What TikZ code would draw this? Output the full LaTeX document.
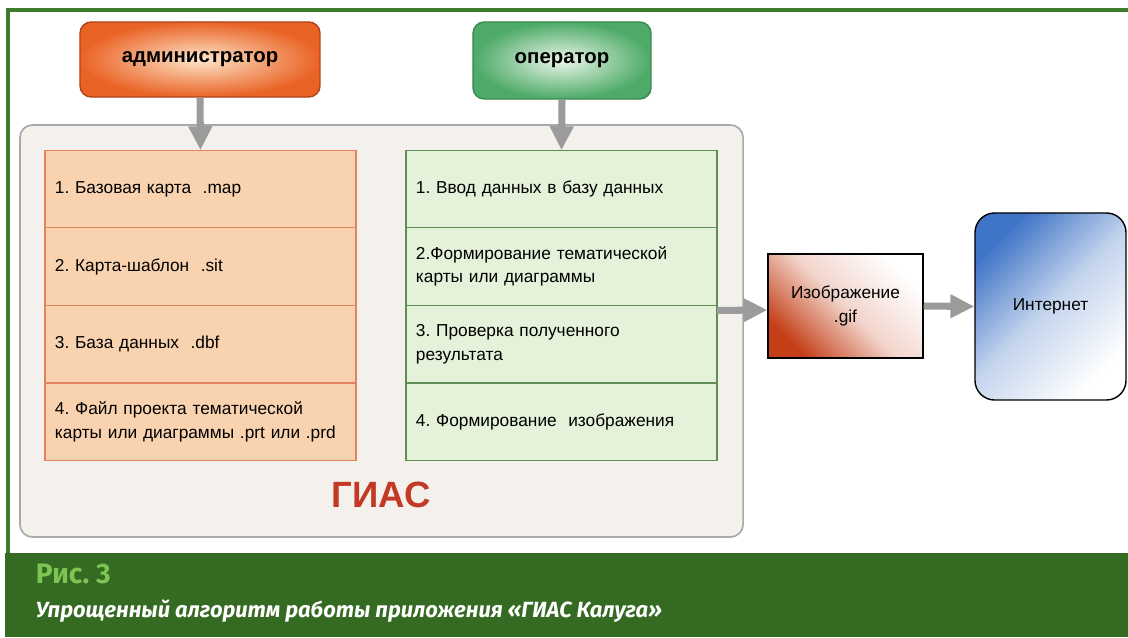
\documentclass[tikz,border=0pt]{standalone}
\usepackage{fontspec}
\setmainfont{Liberation Sans}
\newfontfamily\capfont{Fira Sans}
\usetikzlibrary{positioning,arrows.meta}

\definecolor{framegreen}{HTML}{3E7A2B}
\definecolor{bandgreen}{HTML}{356A22}
\definecolor{ricgreen}{HTML}{7CC552}
\definecolor{adminout}{HTML}{EA6326}
\definecolor{adminin}{HTML}{FDE6C8}
\definecolor{adminline}{HTML}{B0431D}
\definecolor{operout}{HTML}{4DAA68}
\definecolor{operin}{HTML}{EAF6E8}
\definecolor{operline}{HTML}{3A8A4E}
\definecolor{giasfill}{HTML}{F4F1ED}
\definecolor{giasline}{HTML}{A9A9A9}
\definecolor{giasred}{HTML}{C23A25}
\definecolor{leftfill}{HTML}{F9D3AF}
\definecolor{leftline}{HTML}{E08460}
\definecolor{rightfill}{HTML}{E4F2DA}
\definecolor{rightline}{HTML}{5F8F57}
\definecolor{arrowgray}{HTML}{9B9B9B}
\definecolor{imgred}{HTML}{C43F17}
\definecolor{netblue}{HTML}{3F74C6}

\begin{document}
\frenchspacing
\begin{tikzpicture}[x=0.025cm,y=-0.025cm]

	\tikzstyle{role} = [rectangle, rounded corners=8pt, text centered, font=\bfseries\fontsize{14.5}{17}\selectfont, line width=1pt]
	\tikzstyle{admin} = [role, minimum width=6cm, minimum height=1.875cm, draw=adminline, inner color=adminin, outer color=adminout]
	\tikzstyle{oper} = [role, minimum width=4.45cm, minimum height=1.925cm, draw=operline, inner color=operin, outer color=operout]
	\tikzstyle{cell} = [rectangle, outer sep=0pt, minimum height=1.94cm, text width=7.275cm, inner xsep=0.25cm, align=left, font=\fontsize{12.3}{16.5}\selectfont, line width=0.8pt]
	\tikzstyle{leftcell} = [cell, draw=leftline, fill=leftfill]
	\tikzstyle{rightcell} = [cell, draw=rightline, fill=rightfill]
	\tikzstyle{arrow} = [line width=5pt, draw=arrowgray, -{Triangle[length=17pt,width=16pt]}]

	\useasboundingbox (0,0) rectangle (1128,637);

	% frame and caption band
	\draw[framegreen, line width=2.5pt] (8,553) -- (8,10) -- (1140,10);
	\fill[bandgreen] (5,553) rectangle (1128,637);
	\node (fig) [anchor=base west, text=ricgreen, font=\capfont\bfseries\fontsize{20}{24}\selectfont] at (31,583) {Рис. 3};
	\node (caption) [anchor=base west, text=white, font=\capfont\bfseries\itshape\fontsize{15.6}{18}\selectfont] at (31,617) {Упрощенный алгоритм работы приложения «ГИАС Калуга»};

	% GIAS container
	\node (gias) [rectangle, rounded corners=9pt, draw=giasline, fill=giasfill, line width=1.2pt, minimum width=18.075cm, minimum height=10.3cm] at (381.5,331) {};
	\node (giaslabel) [text=giasred, font=\bfseries\fontsize{26}{30}\selectfont] at (381,495) {ГИАС};

	% roles
	\node (admin) [admin] at (200,59.5) {администратор};
	\node (oper) [oper] at (562,60.5) {оператор};

	% administrator column
	\node (l1) [leftcell] at (200.5,189) {1. Базовая карта\ \ .map};
	\node (l2) [leftcell, below=0pt of l1] {2. Карта-шаблон\ \ .sit};
	\node (l3) [leftcell, below=0pt of l2] {3. База данных\ \ .dbf};
	\node (l4) [leftcell, below=0pt of l3] {4. Файл проекта тематической\\карты или диаграммы .prt или .prd};

	% operator column
	\node (r1) [rightcell] at (561.5,189) {1. Ввод данных в базу данных};
	\node (r2) [rightcell, below=0pt of r1] {2.Формирование тематической\\карты или диаграммы};
	\node (r3) [rightcell, below=0pt of r2] {3. Проверка полученного\\результата};
	\node (r4) [rightcell, below=0pt of r3] {4. Формирование\ \ изображения};

	% output
	\node (img) [rectangle, draw=black, line width=1pt, minimum width=3.875cm, minimum height=2.6cm, align=center, font=\fontsize{12.3}{16.5}\selectfont, bottom color=imgred, top color=white, middle color=imgred!22, shading angle=-45] at (845.5,306) {Изображение\\.gif};
	\node (net) [rectangle, rounded corners=14pt, draw=black, line width=1pt, minimum width=3.775cm, minimum height=4.675cm, font=\fontsize{12.3}{16.5}\selectfont, top color=netblue, bottom color=white, middle color=netblue!30, shading angle=45] at (1050.5,306.5) {Интернет};

	% arrows
	\draw[arrow] (admin.south) -- (l1.north);
	\draw[arrow] (oper.south) -- (r1.north);
	\draw[arrow] (r2.south east) ++(0,5) -- (img.west |- 0,310);
	\draw[arrow] (img.east) -- (net.west);

\end{tikzpicture}
\end{document}
